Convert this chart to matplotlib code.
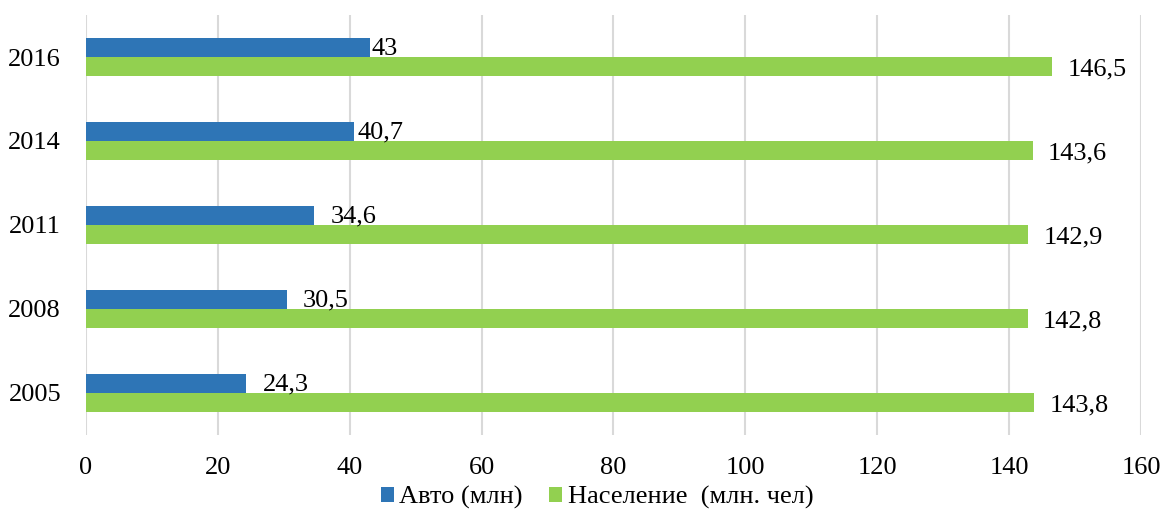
import matplotlib.pyplot as plt
import numpy as np

years = ['2005', '2008', '2011', '2014', '2016']
auto = [24.3, 30.5, 34.6, 40.7, 43]
population = [143.8, 142.8, 142.9, 143.6, 146.5]
auto_labels = ['24,3', '30,5', '34,6', '40,7', '43']
pop_labels = ['143,8', '142,8', '142,9', '143,6', '146,5']
# label shifts in points, as placed in the original
auto_shift = [12, 11, 12, 2, 1.5]

plt.rcParams['font.family'] = ['Liberation Serif', 'DejaVu Serif']
fs = 19

fig = plt.figure(figsize=(11.64, 5.12), dpi=100)
ax = fig.add_axes([0.0739, 0.1504, 0.9063, 0.8203])

y = np.arange(len(years))
h = 0.226
ax.barh(y + h / 2, auto, height=h, color='#2E75B6', label='Авто (млн)', zorder=3)
ax.barh(y - h / 2, population, height=h, color='#92D050', label='Население  (млн. чел)', zorder=3)

for i in range(len(years)):
    ax.annotate(auto_labels[i], (auto[i], y[i] + h / 2), xytext=(auto_shift[i], -1),
                textcoords='offset points', va='center', ha='left', fontsize=fs)
    ax.annotate(pop_labels[i], (population[i], y[i] - h / 2), xytext=(11, -2),
                textcoords='offset points', va='center', ha='left', fontsize=fs)

ax.set_xlim(0, 160)
ax.set_ylim(-0.5, 4.5)
ax.set_xticks(range(0, 161, 20))
ax.set_yticks(y)
ax.set_yticklabels(years)
ax.tick_params(axis='both', length=0, labelsize=fs)
ax.tick_params(axis='x', pad=16)
ax.tick_params(axis='y', pad=18)
ax.grid(axis='x', color='#d9d9d9', linewidth=1.5, zorder=0)
for s in ax.spines.values():
    s.set_visible(False)

fig.legend(loc='lower center', bbox_to_anchor=(0.513, 0.006), ncol=2, frameon=False,
           fontsize=fs, handlelength=0.5, handleheight=0.5, handletextpad=0.2,
           columnspacing=1.0, borderaxespad=0, borderpad=0)

fig.savefig('out.png', dpi=100)
